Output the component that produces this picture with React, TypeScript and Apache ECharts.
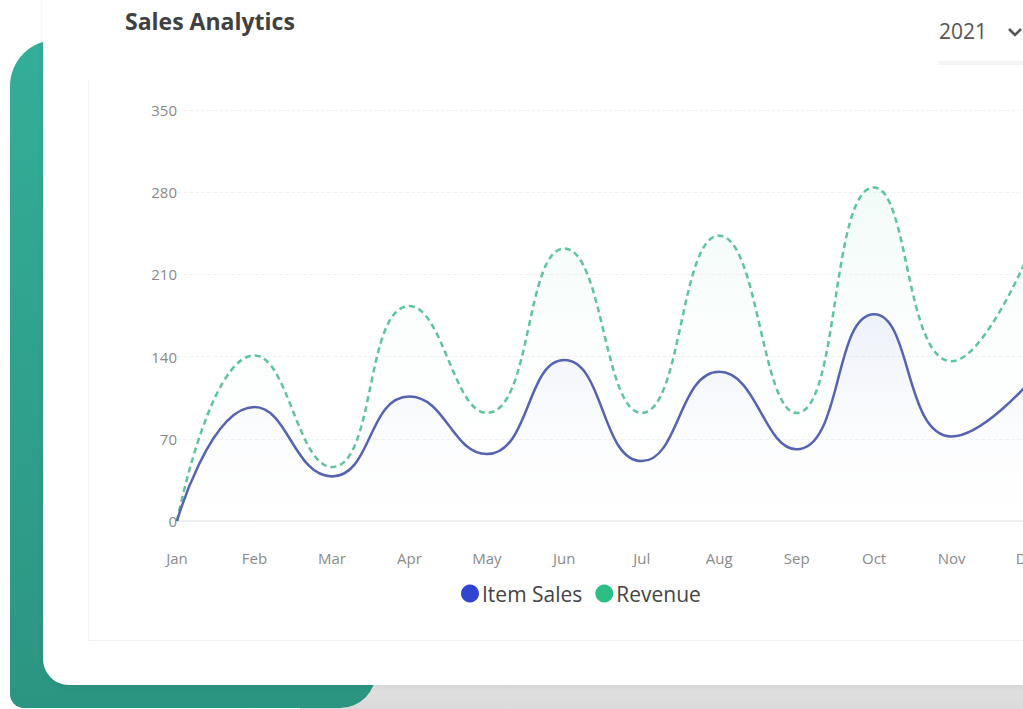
import React, { useEffect, useRef } from "react";
import * as echarts from "echarts";

const months = ["Jan", "Feb", "Mar", "Apr", "May", "Jun", "Jul", "Aug", "Sep", "Oct", "Nov", "Dec"];
const itemSales = [0, 97, 38, 106, 57, 137, 51, 127, 61, 176, 72, 118];
const revenue = [0, 141, 46, 183, 92, 232, 92, 243, 92, 284, 136, 228];
const yTicks = { min: 0, max: 350, interval: 70 };
const titleText = "Sales Analytics";
const yearText = "2021";

const FONT = "'Open Sans', 'Noto Sans', sans-serif";

export default function App() {
  const ref = useRef<HTMLDivElement>(null);

  useEffect(() => {
    if (!ref.current) return;
    const chart = echarts.init(ref.current, null, { renderer: "svg" });
    chart.setOption({
      animation: false,
      textStyle: { fontFamily: FONT },
      title: {
        text: titleText,
        left: 120,
        top: 4,
        textStyle: { fontFamily: FONT, fontSize: 23, fontWeight: "bold", color: "#404040" },
      },
      graphic: [
        {
          type: "text",
          left: 939,
          top: 20,
          style: { text: yearText, fontFamily: FONT, fontSize: 21, fill: "#555" },
        },
        {
          type: "polyline",
          shape: { points: [[1009, 29], [1015, 35], [1021, 29]] },
          style: { stroke: "#555", lineWidth: 2.5, fill: "none" },
        },
        {
          type: "rect",
          shape: { x: 938, y: 61, width: 120, height: 4 },
          style: { fill: "#f4f4f4" },
        },
      ],
      legend: {
        data: ["Item Sales", "Revenue"],
        left: 456,
        top: 578,
        icon: "circle",
        itemWidth: 18,
        itemHeight: 18,
        itemGap: 13,
        textStyle: { fontFamily: FONT, fontSize: 21, color: "#444", padding: [0, 0, 0, -2] },
      },
      grid: { left: 177, top: 110, width: 852, bottom: 188 },
      xAxis: {
        type: "category",
        data: months,
        boundaryGap: false,
        axisLine: { lineStyle: { color: "#ececec", width: 1.5 } },
        axisTick: { show: false },
        axisLabel: { color: "#8a8a8a", fontSize: 15, margin: 29, fontFamily: FONT },
        splitLine: { show: false },
      },
      yAxis: {
        type: "value",
        min: yTicks.min,
        max: yTicks.max,
        interval: yTicks.interval,
        axisLine: { show: false },
        axisTick: { show: false },
        axisLabel: { color: "#8a8a8a", fontSize: 15, margin: 0, fontFamily: FONT },
        splitLine: { lineStyle: { color: "#f2f2f2", type: "dashed" } },
      },
      series: [
        {
          name: "Item Sales",
          type: "line",
          data: itemSales,
          smooth: 0.5,
          showSymbol: false,
          itemStyle: { color: "#2f45cf" },
          lineStyle: { color: "#5563b0", width: 2.5 },
          areaStyle: {
            color: new echarts.graphic.LinearGradient(0, 0, 0, 1, [
              { offset: 0, color: "rgba(90,110,210,0.12)" },
              { offset: 0.6, color: "rgba(90,110,210,0.02)" },
              { offset: 1, color: "rgba(90,110,210,0)" },
            ]),
          },
          z: 3,
        },
        {
          name: "Revenue",
          type: "line",
          data: revenue,
          smooth: 0.5,
          showSymbol: false,
          itemStyle: { color: "#2bbf86" },
          lineStyle: { color: "#5fc49c", width: 2.5, type: [6, 4] },
          areaStyle: {
            color: new echarts.graphic.LinearGradient(0, 0, 0, 1, [
              { offset: 0, color: "rgba(70,200,150,0.1)" },
              { offset: 0.5, color: "rgba(70,200,150,0.02)" },
              { offset: 1, color: "rgba(70,200,150,0)" },
            ]),
          },
          z: 2,
        },
      ],
    });
    return () => chart.dispose();
  }, []);

  return (
    <div
      style={{
        position: "fixed",
        left: 0,
        top: 0,
        width: 1023,
        height: 709,
        overflow: "hidden",
        background: "#ffffff",
      }}
    >
      <div
        style={{
          position: "absolute",
          left: 300,
          top: 650,
          width: 800,
          height: 70,
          background: "linear-gradient(to bottom, #e8e8e8, #d8d8d8)",
        }}
      />
      <div
        style={{
          position: "absolute",
          left: 10,
          top: 40,
          width: 366,
          height: 668,
          borderRadius: "46px 0 36px 14px",
          background: "linear-gradient(to bottom, #33ae98, #2c9582)",
        }}
      />
      <div
        style={{
          position: "absolute",
          left: 43,
          top: -40,
          width: 1100,
          height: 725,
          background: "#ffffff",
          borderRadius: "0 0 0 26px",
          boxShadow: "0 2px 6px rgba(0,0,0,0.06)",
        }}
      />
      <div
        style={{
          position: "absolute",
          left: 88,
          top: 80,
          width: 1000,
          height: 560,
          borderLeft: "1px solid #f3f3f3",
          borderBottom: "1px solid #f0f0f0",
        }}
      />
      <div ref={ref} style={{ position: "absolute", left: 0, top: 0, width: 1100, height: 709 }} />
    </div>
  );
}
